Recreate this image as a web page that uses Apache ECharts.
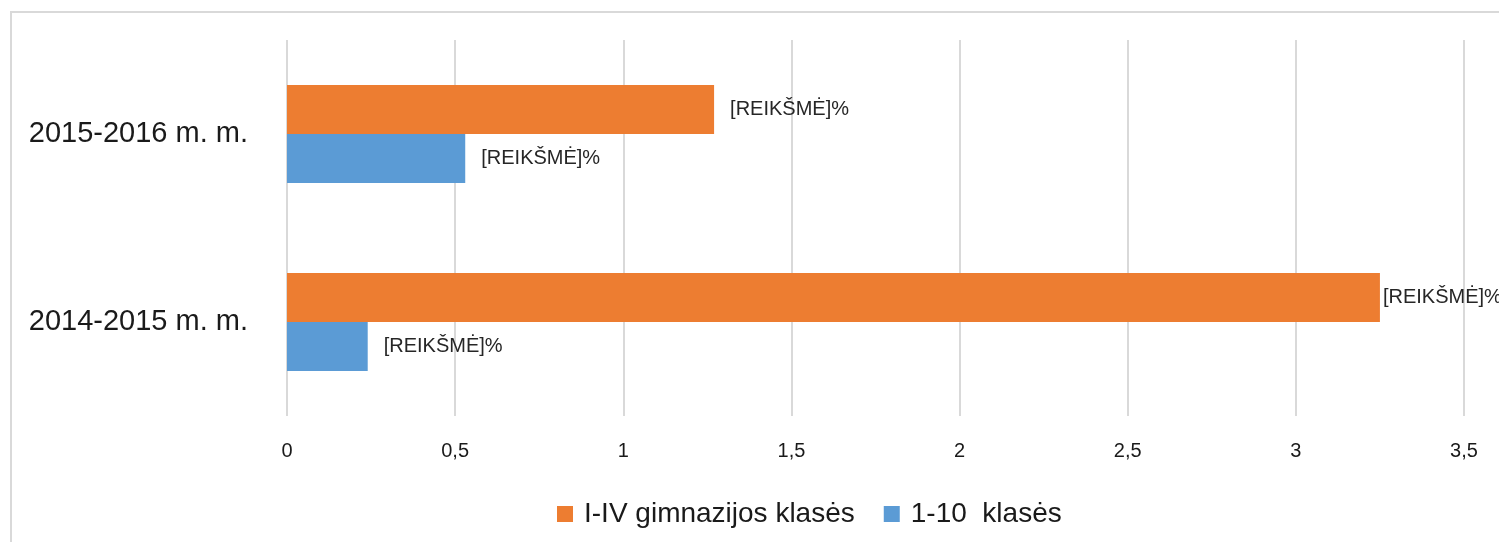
<!DOCTYPE html>
<html>
<head>
<meta charset="utf-8">
<script src="https://cdn.jsdelivr.net/npm/echarts@6/dist/echarts.min.js"></script>
<style>
	html, body { margin: 0; padding: 0; background: #fff; overflow: hidden; }
	#frame { position: absolute; left: 10px; top: 11px; width: 1600px; height: 600px; border: 2px solid #d9d9d9; box-sizing: border-box; }
	#chart { position: absolute; left: 0; top: 0; width: 1499px; height: 542px; }
</style>
</head>
<body>
<div id="frame"></div>
<div id="chart"></div>
<script>
	// data
	const categories = ['2014-2015 m. m.', '2015-2016 m. m.'];
	const gimnazijos = [3.25, 1.27];
	const klases = [0.24, 0.53];
	const seriesNames = ['I-IV gimnazijos klasės', '1-10  klasės'];
	const ticks = ['0', '0,5', '1', '1,5', '2', '2,5', '3', '3,5'];

	const chart = echarts.init(document.getElementById('chart'));

	const labelStyle = {
		show: true,
		position: 'right',
		distance: 16,
		formatter: '[REIKŠMĖ]%',
		color: '#262626',
		fontSize: 20,
		fontFamily: 'Liberation Sans'
	};

	// the long bar's label sits tight against the bar, as it does in the picture
	function items(values) {
		return values.map(v => v > 3 ? { value: v, label: { distance: 3 } } : v);
	}

	let option = {
		backgroundColor: 'transparent',
		animation: false,
		grid: {
			left: 287,
			right: 35,
			top: 40,
			bottom: 126
		},
		legend: {
			left: 552,
			top: 495,
			icon: 'rect',
			itemWidth: 16,
			itemHeight: 16,
			itemGap: 29,
			textStyle: {
				fontSize: 28,
				color: '#1a1a1a',
				fontFamily: 'Liberation Sans',
				padding: [0, 0, 0, 6]
			},
			data: seriesNames
		},
		xAxis: {
			type: 'value',
			min: 0,
			max: 3.5,
			interval: 0.5,
			axisLine: { show: false },
			axisTick: { show: false },
			splitLine: {
				show: true,
				lineStyle: { color: '#d9d9d9', width: 2 }
			},
			axisLabel: {
				margin: 25,
				fontSize: 20,
				color: '#1a1a1a',
				fontFamily: 'Liberation Sans',
				formatter: (v) => ticks[Math.round(v / 0.5)]
			}
		},
		yAxis: {
			type: 'category',
			data: categories,
			axisLine: { show: false },
			axisTick: { show: false },
			axisLabel: {
				margin: 39,
				fontSize: 29,
				color: '#1a1a1a',
				fontFamily: 'Liberation Sans'
			}
		},
		series: [{
			name: seriesNames[0],
			type: 'bar',
			data: items(gimnazijos),
			barWidth: 49,
			barGap: '0%',
			barCategoryGap: '48%',
			itemStyle: { color: '#ed7d31' },
			label: labelStyle
		}, {
			name: seriesNames[1],
			type: 'bar',
			data: klases,
			barWidth: 49,
			barGap: '0%',
			barCategoryGap: '48%',
			itemStyle: { color: '#5b9bd5' },
			label: labelStyle
		}]
	};
	chart.setOption(option);
</script>
</body>
</html>
